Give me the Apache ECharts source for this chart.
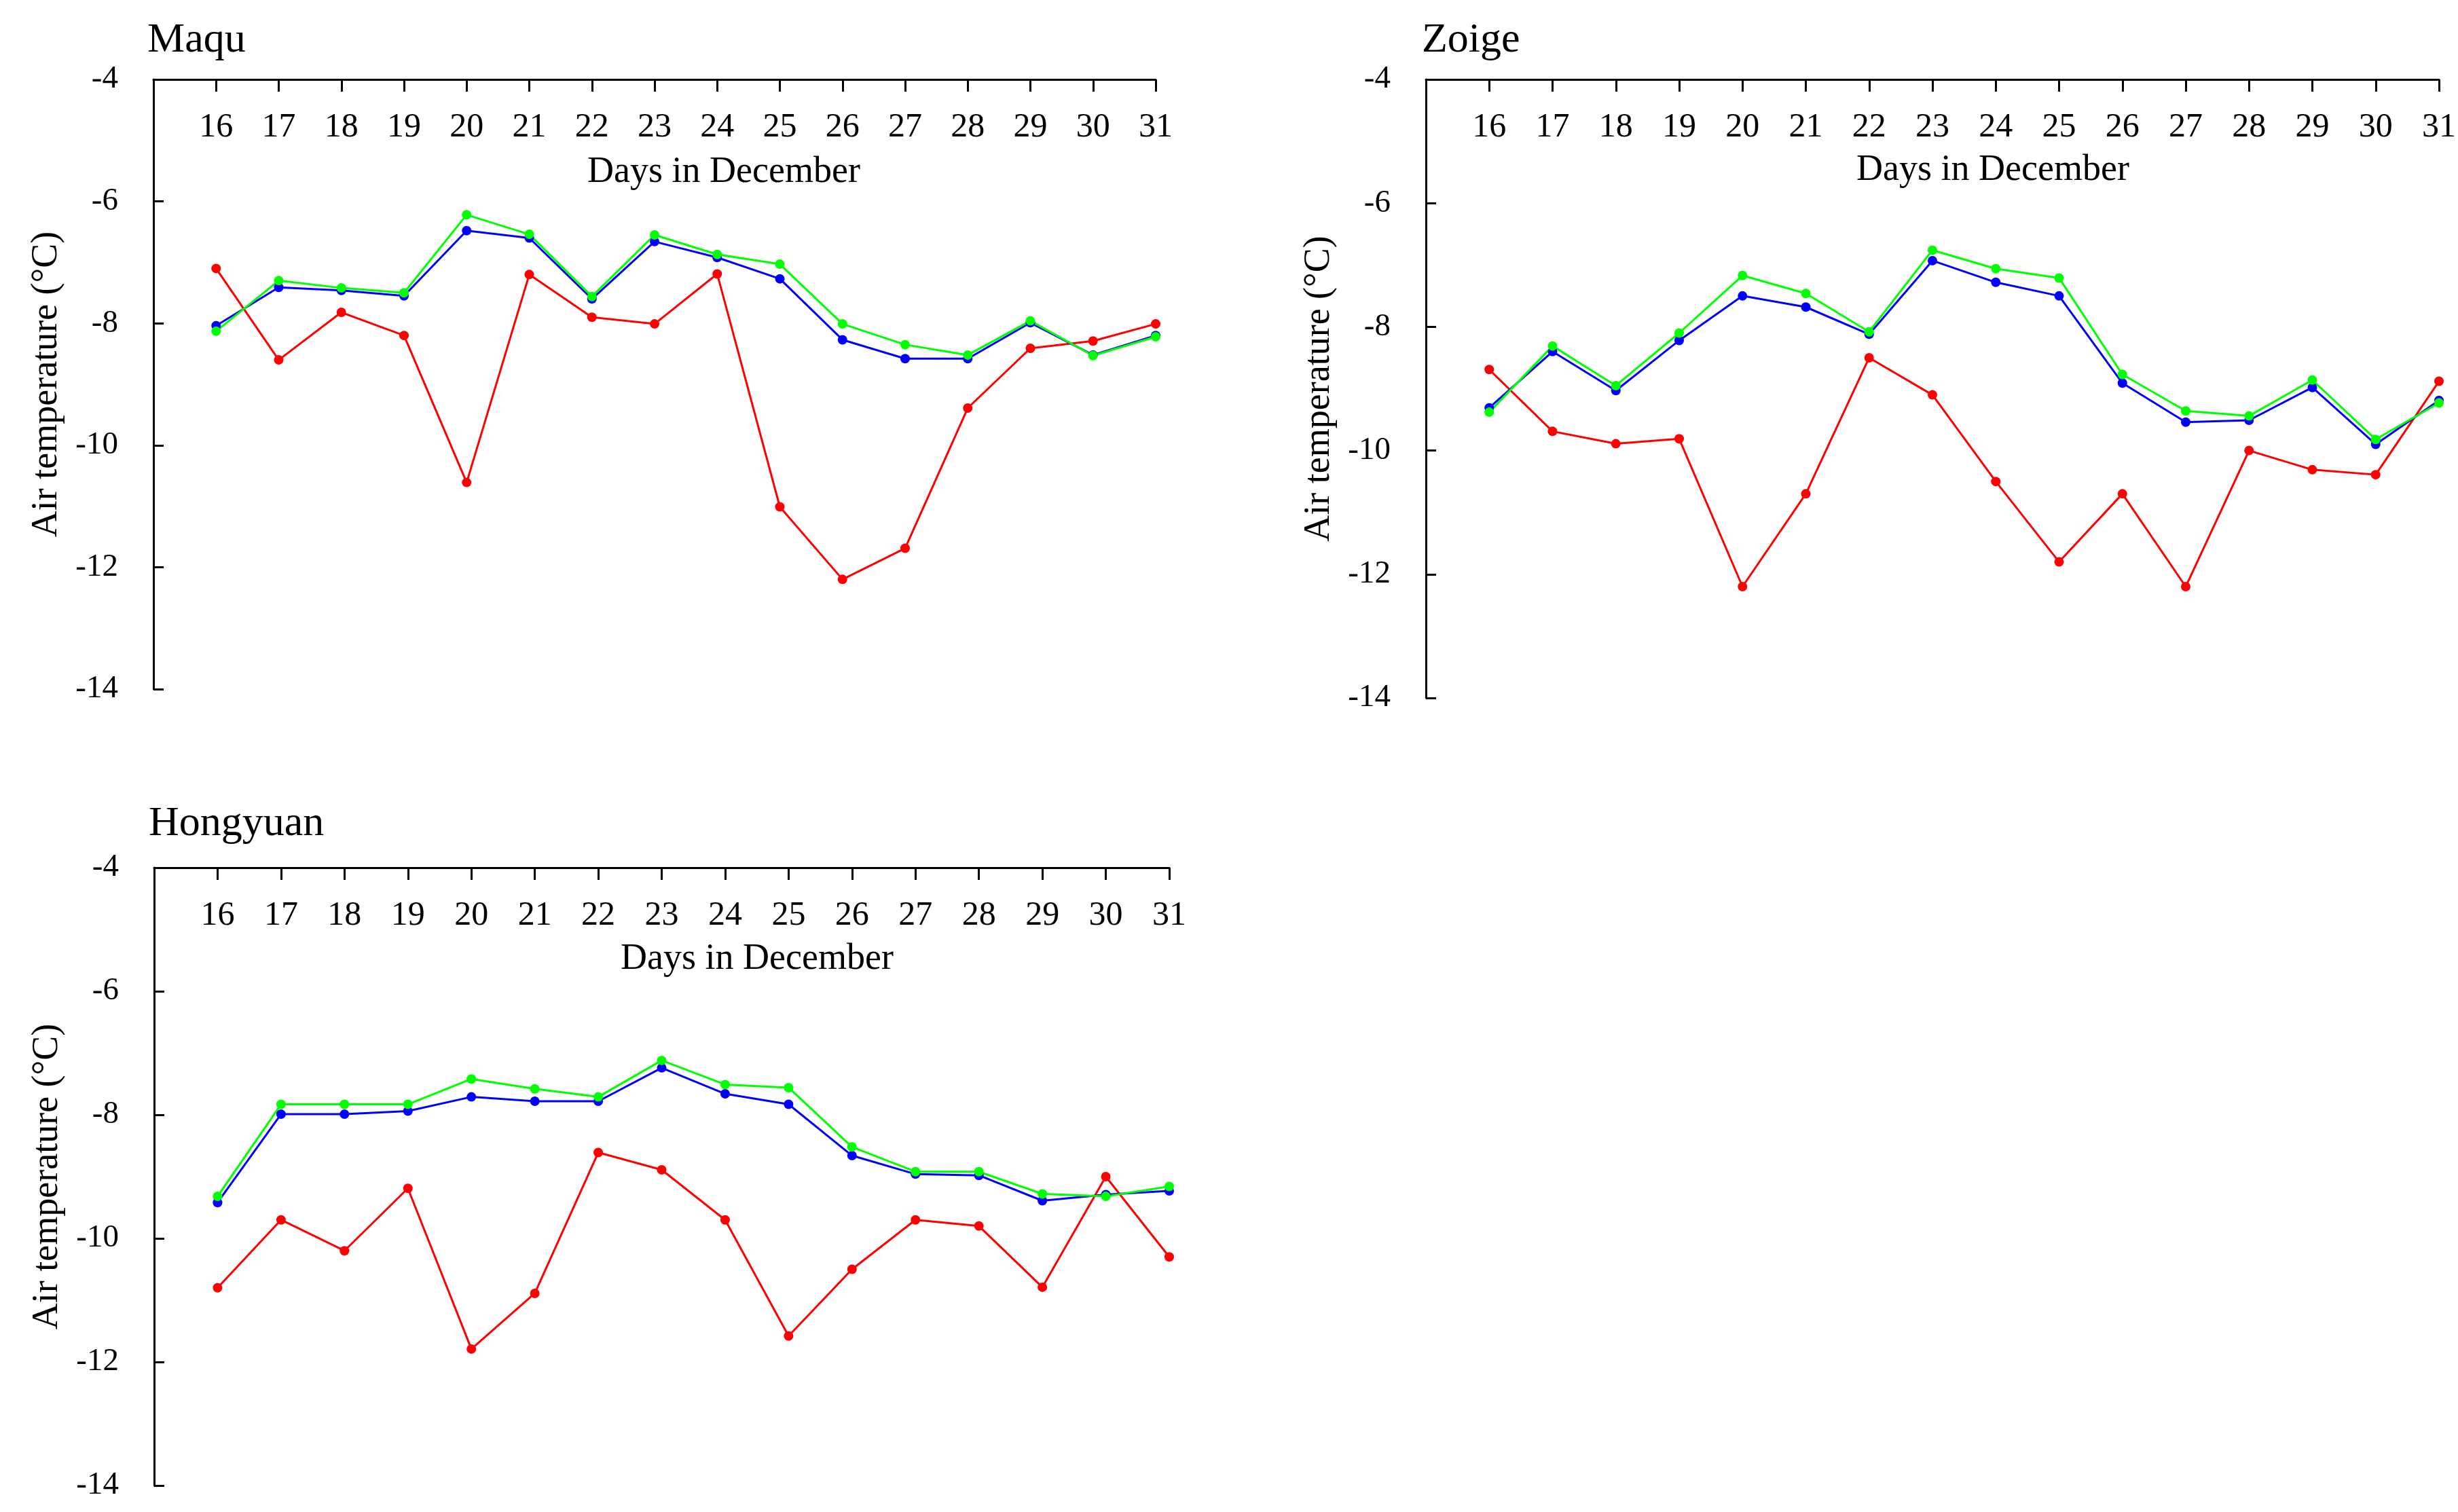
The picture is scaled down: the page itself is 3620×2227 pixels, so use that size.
<!DOCTYPE html>
<html>
<head>
    <meta charset="utf-8"/>
    <title>Air temperature in December</title>
    <style>
        html, body { margin: 0; padding: 0; background: #fff; }
    </style>
</head>
<body>
<div id="main" style="width:3620px;height:2227px"></div>
<script src="https://cdn.jsdelivr.net/npm/echarts@6/dist/echarts.min.js"></script>
<script type="text/javascript">
    // days on the x axis
    var days = [16, 17, 18, 19, 20, 21, 22, 23, 24, 25, 26, 27, 28, 29, 30, 31];

    // Maqu
    var maquRed = [-7.10, -8.60, -7.82, -8.20, -10.61, -7.20, -7.90, -8.01, -7.19, -11.01, -12.20, -11.69, -9.39, -8.41, -8.29, -8.01];
    var maquBlue = [-8.04, -7.41, -7.46, -7.55, -6.48, -6.60, -7.60, -6.66, -6.92, -7.27, -8.27, -8.58, -8.58, -7.99, -8.52, -8.20];
    var maquGreen = [-8.13, -7.30, -7.42, -7.50, -6.22, -6.54, -7.56, -6.55, -6.87, -7.03, -8.01, -8.35, -8.52, -7.96, -8.53, -8.22];

    // Zoige
    var zoigeRed = [-8.69, -9.69, -9.89, -9.81, -12.20, -10.70, -8.50, -9.10, -10.50, -11.80, -10.70, -12.20, -10.00, -10.31, -10.39, -8.88];
    var zoigeBlue = [-9.31, -8.40, -9.03, -8.22, -7.50, -7.68, -8.12, -6.93, -7.28, -7.50, -8.91, -9.54, -9.51, -8.98, -9.90, -9.19];
    var zoigeGreen = [-9.38, -8.31, -8.95, -8.10, -7.17, -7.46, -8.08, -6.76, -7.06, -7.21, -8.77, -9.36, -9.44, -8.86, -9.82, -9.23];

    // Hongyuan
    var hongyuanRed = [-10.80, -9.70, -10.20, -9.19, -11.79, -10.89, -8.61, -8.89, -9.70, -11.58, -10.50, -9.70, -9.80, -10.79, -9.00, -10.30];
    var hongyuanBlue = [-9.42, -7.99, -7.99, -7.94, -7.71, -7.78, -7.78, -7.24, -7.66, -7.83, -8.66, -8.96, -8.98, -9.39, -9.29, -9.23];
    var hongyuanGreen = [-9.32, -7.83, -7.83, -7.83, -7.42, -7.58, -7.71, -7.12, -7.51, -7.56, -8.52, -8.92, -8.92, -9.28, -9.32, -9.16];

    // y axis range
    var yMin = -14, yMax = -4, yStep = 2;

    var stations = ['Maqu', 'Zoige', 'Hongyuan'];
    var stationData = [
        [maquRed, maquBlue, maquGreen],
        [zoigeRed, zoigeBlue, zoigeGreen],
        [hongyuanRed, hongyuanBlue, hongyuanGreen]
    ];
    var lineColors = ['#ff0000', '#0000ff', '#00ff00'];
    var lineNames = ['red', 'blue', 'green'];

    var grids = [
        {left: 226, top: 117, width: 1476, height: 898},
        {left: 2100, top: 117, width: 1495, height: 911},
        {left: 227, top: 1278, width: 1495, height: 910}
    ];
    var titlePos = [[217, 29], [2094, 29], [219, 1183]];
    var xNamePos = [[1066, 254], [2935, 251], [1115, 1413]];

    var FONT = '"Liberation Serif", "Times New Roman", serif';
    var axisStyle = {color: '#000', width: 3};

    function pairs(vals) {
        return days.map(function (d, i) {
            return [d, vals[i]];
        });
    }

    var xAxes = [], yAxes = [], series = [], titles = [], graphics = [];

    stations.forEach(function (name, i) {
        titles.push({
            text: name,
            left: titlePos[i][0],
            top: titlePos[i][1],
            padding: 0,
            textStyle: {fontFamily: FONT, fontSize: 62, fontWeight: 'normal', color: '#000'}
        });
        graphics.push({
            type: 'text',
            x: xNamePos[i][0],
            y: xNamePos[i][1],
            style: {
                text: 'Days in December',
                fontFamily: FONT,
                fontSize: 54,
                fill: '#000',
                align: 'center',
                verticalAlign: 'middle'
            }
        });
        xAxes.push({
            gridIndex: i,
            type: 'value',
            position: 'top',
            min: days[0] - 1,
            max: days[days.length - 1],
            interval: 1,
            axisLine: {show: true, lineStyle: axisStyle},
            axisTick: {show: true, inside: true, length: 18, lineStyle: axisStyle},
            axisLabel: {
                inside: true,
                margin: 46,
                fontFamily: FONT,
                fontSize: 50,
                color: '#000',
                formatter: function (v) {
                    return v < days[0] ? '' : v;
                }
            },
            splitLine: {show: false}
        });
        yAxes.push({
            gridIndex: i,
            type: 'value',
            min: yMin,
            max: yMax,
            interval: yStep,
            axisLine: {show: true, onZero: false, lineStyle: axisStyle},
            axisTick: {show: true, inside: true, length: 15, lineStyle: axisStyle},
            axisLabel: {margin: 52, fontFamily: FONT, fontSize: 47, color: '#000'},
            splitLine: {show: false},
            name: 'Air temperature (\u00B0C)',
            nameLocation: 'middle',
            nameGap: 130,
            nameTextStyle: {fontFamily: FONT, fontSize: 54, color: '#000'}
        });
        stationData[i].forEach(function (vals, k) {
            series.push({
                name: name + ' ' + lineNames[k],
                type: 'line',
                xAxisIndex: i,
                yAxisIndex: i,
                data: pairs(vals),
                symbol: 'circle',
                symbolSize: 14,
                color: lineColors[k],
                lineStyle: {width: 3, color: lineColors[k]},
                itemStyle: {color: lineColors[k]},
                animation: false
            });
        });
    });

    var chart = echarts.init(document.getElementById('main'));
    chart.setOption({
        backgroundColor: '#fff',
        animation: false,
        title: titles,
        grid: grids,
        xAxis: xAxes,
        yAxis: yAxes,
        series: series,
        graphic: graphics
    });
</script>
</body>
</html>
